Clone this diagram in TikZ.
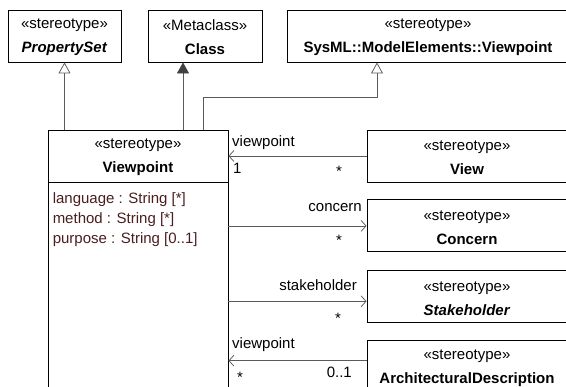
\documentclass[tikz,border=0pt]{standalone}
\usepackage{fontspec}
\setmainfont{Liberation Sans}
\usepackage{xcolor}
\usetikzlibrary{positioning, arrows.meta}
\definecolor{linegray}{HTML}{5A5A5A}
\definecolor{headgray}{HTML}{404040}
\definecolor{attrbrown}{HTML}{4A1E1E}
% stereotype line over the element name
\newcommand{\umlhead}[2]{\rule{0pt}{13pt}#1\\#2}

\begin{document}
\begin{tikzpicture}[x=1pt, y=-1pt,
    classbox/.style={draw, line width=0.9pt, inner sep=0pt, minimum height=52pt,
                     align=center, font=\fontsize{15}{24}\selectfont},
    assoc/.style={draw=linegray, line width=0.75pt},
    gen/.style={assoc, -{Triangle[open, length=11pt, width=12pt, fill=white]}},
    genfill/.style={assoc, -{Triangle[length=11pt, width=12pt, fill=headgray, color=headgray]}},
    nav/.style={assoc, -{Straight Barb[length=5pt, width=11pt]}},
    lbl/.style={font=\fontsize{15}{18}\selectfont, inner sep=0pt}]
  \useasboundingbox (0,0) rectangle (566,387);
  \clip (0,0) rectangle (566,387);

  % top row
  \node[classbox, minimum width=113pt] (propset) at (64.5,36) {\umlhead{«stereotype»}{\textbf{\textit{PropertySet}}}};
  \node[classbox, minimum width=114pt] (metaclass) at (205,36) {\umlhead{«Metaclass»}{\textbf{Class}}};
  \node[classbox, minimum width=282pt] (sysmlvp) at (428,36) {\umlhead{«stereotype»}{\textbf{SysML::ModelElements::Viewpoint}}};

  % the viewpoint stereotype
  \node[classbox, minimum width=180pt] (vp) at (138,156) {\umlhead{«stereotype»}{\textbf{Viewpoint}}};
  \node[draw, line width=0.9pt, inner sep=0pt, minimum width=180pt, minimum height=230pt,
        anchor=north] (vpattrs) at (vp.south) {};
  \node[lbl, text=attrbrown, align=left, anchor=north west, font=\fontsize{15}{20}\selectfont]
       (attrs) at ([xshift=5pt, yshift=-10pt]vpattrs.north west)
       {language : String [*]\\method : String [*]\\purpose : String [0..1]};

  % right column
  \node[classbox, minimum width=200pt] (view) at (467,156) {\umlhead{«stereotype»}{\textbf{View}}};
  \node[classbox, minimum width=200pt, below=17pt of view] (concern) {\umlhead{«stereotype»}{\textbf{Concern}}};
  \node[classbox, minimum width=200pt, below=18pt of concern] (stake) {\umlhead{«stereotype»}{\textbf{\textit{Stakeholder}}}};
  \node[classbox, minimum width=200pt, below=17pt of stake] (archdesc) {\umlhead{«stereotype»}{\textbf{ArchitecturalDescription}}};

  % generalizations
  \coordinate (clsfoot) at ([xshift=45pt]vp.north);
  \coordinate (sysfoot) at ([xshift=65pt]vp.north);
  \coordinate (sysbend) at (377,97);
  \draw[gen] (vp.north -| propset.south) -- (propset.south);
  \draw[genfill] (clsfoot) -- (clsfoot |- metaclass.south);
  \draw[gen] (sysfoot) |- (sysbend) -- (sysbend |- sysmlvp.south);

  % associations
  \coordinate (stakeend) at ([yshift=-4.5pt]stake.west);
  \coordinate (adend) at ([yshift=6pt]archdesc.west);
  \draw[nav] (view.west) -- (view.west -| vp.east);
  \draw[nav] (concern.west -| vp.east) -- (concern.west);
  \draw[nav] (stakeend -| vp.east) -- (stakeend);
  \draw[nav] (adend) -- (adend -| vp.east);

  % role names and multiplicities
  \node[lbl, anchor=base west] (vwrole) at (232,147) {viewpoint};
  \node[lbl, anchor=base west] (vwone) at (233,174) {1};
  \node[lbl, anchor=base] (vwmany) at (339,177) {*};
  \node[lbl, anchor=base east] (cnrole) at (362,212) {concern};
  \node[lbl, anchor=base] (cnmany) at (339,246) {*};
  \node[lbl, anchor=base east] (shrole) at (357,291) {stakeholder};
  \node[lbl, anchor=base] (shmany) at (338,324) {*};
  \node[lbl, anchor=base west] (adrole) at (232,349) {viewpoint};
  \node[lbl, anchor=base] (admany) at (240,383) {*};
  \node[lbl, anchor=base east] (adopt) at (352,378) {0..1};
\end{tikzpicture}
\end{document}
